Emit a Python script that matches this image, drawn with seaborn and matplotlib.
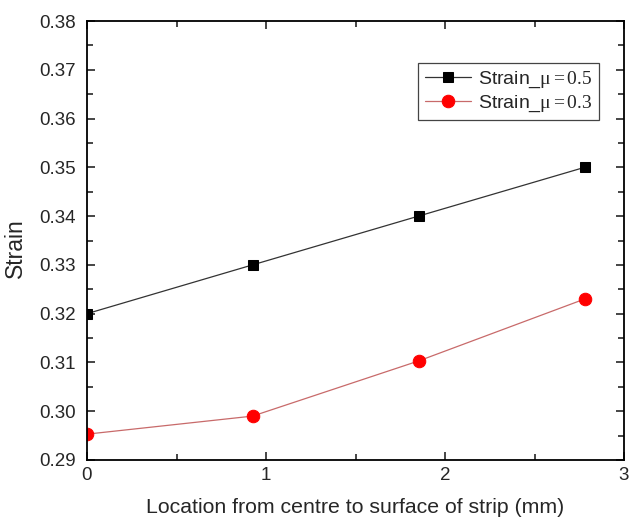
import matplotlib
matplotlib.use("Agg")
import matplotlib.pyplot as plt
import seaborn as sns
import pandas as pd
from matplotlib.ticker import MultipleLocator

x_pos = [0.0, 0.925, 1.852, 2.78]
strain_mu05 = [0.320, 0.330, 0.340, 0.350]
strain_mu03 = [0.2953, 0.2990, 0.3103, 0.3230]
labels = ["Strain_$\\mathrm{μ{=}0.5}$", "Strain_$\\mathrm{μ{=}0.3}$"]

sns.set_style("ticks")
plt.rcParams["font.family"] = ["Liberation Sans", "DejaVu Sans"]
plt.rcParams["mathtext.fontset"] = "custom"
plt.rcParams["mathtext.rm"] = "Liberation Serif"
plt.rcParams["mathtext.it"] = "Liberation Serif:italic"

df = pd.DataFrame({
    "x": x_pos * 2,
    "y": strain_mu05 + strain_mu03,
    "series": [labels[0]] * 4 + [labels[1]] * 4,
})

fig = plt.figure(figsize=(6.3, 5.19), dpi=100)
ax = fig.add_axes([87 / 630, 1 - 460 / 519, (624 - 87) / 630, (460 - 21) / 519])

sns.lineplot(data=df[df.series == labels[0]], x="x", y="y", ax=ax,
             color="#333333", lw=0.9, marker="s", markersize=7,
             markerfacecolor="black", markeredgecolor="black", label=labels[0])
sns.lineplot(data=df[df.series == labels[1]], x="x", y="y", ax=ax,
             color="#c86a6a", lw=0.9, marker="o", markersize=9,
             markerfacecolor="red", markeredgecolor="red", label=labels[1])

ax.set_xlim(0, 3)
ax.set_ylim(0.29, 0.38)
ax.xaxis.set_major_locator(MultipleLocator(1))
ax.xaxis.set_minor_locator(MultipleLocator(0.5))
ax.yaxis.set_major_locator(MultipleLocator(0.01))
ax.yaxis.set_minor_locator(MultipleLocator(0.005))
ax.yaxis.set_major_formatter(matplotlib.ticker.FormatStrFormatter("%.2f"))

ax.tick_params(which="both", direction="in", top=True, right=True, width=1.2,
               labelsize=13.5)
ax.tick_params(axis="y", which="both", pad=8)
ax.tick_params(axis="x", which="both", pad=5)
ax.tick_params(which="major", length=6)
ax.tick_params(which="minor", length=4)
for s in ax.spines.values():
    s.set_linewidth(1.3)
    s.set_color("black")

ax.set_xlabel("Location from centre to surface of strip (mm)", fontsize=15.3, labelpad=10)
ax.set_ylabel("Strain", fontsize=16.5)
ax.yaxis.set_label_coords(-0.112, 0.483)

leg = ax.legend(loc="upper right", bbox_to_anchor=(0.9535, 0.904), fontsize=14,
                frameon=True, fancybox=False, framealpha=1, edgecolor="#444444",
                borderpad=0.32, handlelength=2.4, labelspacing=0.18, handletextpad=0.36,
                borderaxespad=0)
leg.get_frame().set_linewidth(0.9)

fig.savefig("out.png", dpi=100)
